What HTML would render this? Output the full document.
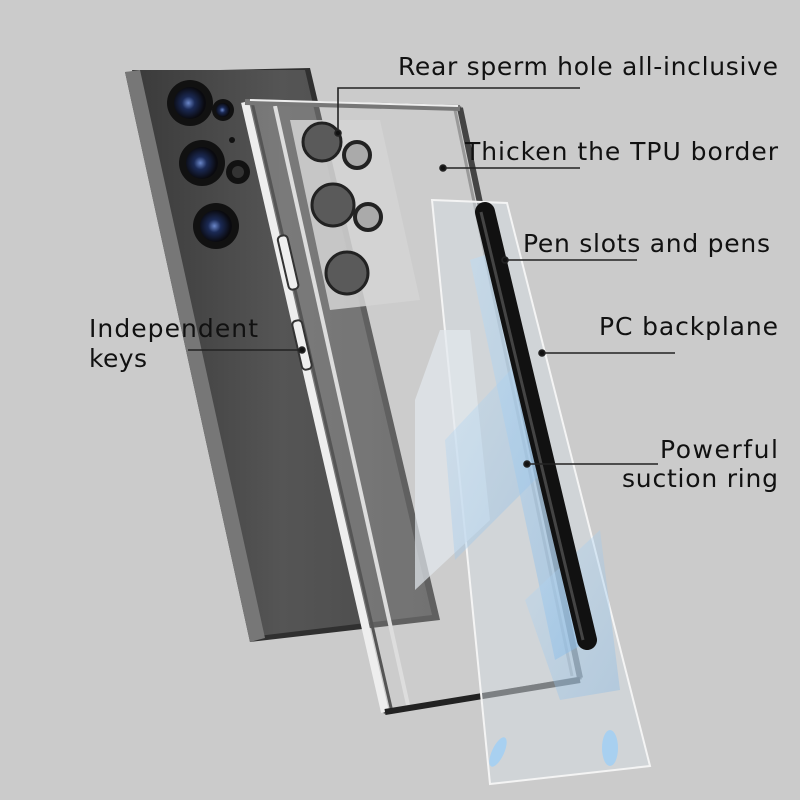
<!DOCTYPE html>
<html><head><style>
html,body{margin:0;padding:0;background:#cbcbcb;}
svg{display:block}
text{font-family:"DejaVu Sans","Liberation Sans",sans-serif;fill:#111;font-size:25px;}
</style></head><body>
<svg width="800" height="800" viewBox="0 0 800 800" xmlns="http://www.w3.org/2000/svg">
<defs>
<linearGradient id="ph" x1="0" y1="0" x2="1" y2="0">
<stop offset="0" stop-color="#3a3a3a"/><stop offset="0.5" stop-color="#555"/><stop offset="1" stop-color="#4a4a4a"/>
</linearGradient>
<radialGradient id="lens" cx="0.45" cy="0.5" r="0.5">
<stop offset="0" stop-color="#6a86c8"/><stop offset="0.4" stop-color="#1b2a55"/><stop offset="1" stop-color="#0a0a0f"/>
</radialGradient>
<linearGradient id="bl" x1="0" y1="0" x2="1" y2="1">
<stop offset="0" stop-color="#bcdcf5" stop-opacity="0.8"/><stop offset="1" stop-color="#7fb6e6" stop-opacity="0.8"/>
</linearGradient>
</defs>
<rect width="800" height="800" fill="#cbcbcb"/>
<!-- phone -->
<polygon points="125,72 310,68 440,620 250,642" fill="#303030"/>
<polygon points="132,70 305,70 432,615 258,636" fill="url(#ph)"/>
<polygon points="125,72 140,70 265,638 250,642" fill="#777"/>
<!-- lenses -->
<circle cx="190" cy="103" r="23" fill="#111"/><circle cx="190" cy="103" r="16" fill="url(#lens)"/>
<circle cx="223" cy="110" r="11" fill="#111"/><circle cx="223" cy="110" r="7" fill="url(#lens)"/>
<circle cx="202" cy="163" r="23" fill="#111"/><circle cx="202" cy="163" r="16" fill="url(#lens)"/>
<circle cx="238" cy="172" r="12" fill="#111"/><circle cx="238" cy="172" r="6" fill="#333"/>
<circle cx="216" cy="226" r="23" fill="#111"/><circle cx="216" cy="226" r="16" fill="url(#lens)"/>
<circle cx="232" cy="140" r="3" fill="#111"/>
<!-- frame -->
<polygon points="245,102 460,108 580,678 385,712" fill="#d0d0d0" fill-opacity="0.3" stroke="#555" stroke-width="3"/>
<path d="M245,102 L385,712" stroke="#eee" stroke-width="8"/>
<path d="M252,102 L392,712" stroke="#555" stroke-width="3"/>
<path d="M275,106 L408,705" stroke="#ddd" stroke-width="4"/>
<path d="M460,108 L580,678" stroke="#444" stroke-width="6"/>
<path d="M455,110 L572,676" stroke="#999" stroke-width="3"/>
<path d="M385,712 L580,680" stroke="#222" stroke-width="6"/>
<path d="M245,102 L460,108" stroke="#777" stroke-width="6"/>
<path d="M250,100 L458,106" stroke="#eee" stroke-width="2"/>
<!-- frame camera plate -->
<polygon points="290,120 380,120 420,300 330,310" fill="#d4d4d4" fill-opacity="0.85"/>
<circle cx="322" cy="142" r="19" fill="#5a5a5a" stroke="#222" stroke-width="3"/>
<circle cx="357" cy="155" r="13" fill="#aaa" stroke="#222" stroke-width="4"/>
<circle cx="333" cy="205" r="21" fill="#5a5a5a" stroke="#222" stroke-width="3"/>
<circle cx="368" cy="217" r="13" fill="#aaa" stroke="#222" stroke-width="4"/>
<circle cx="347" cy="273" r="21" fill="#5a5a5a" stroke="#222" stroke-width="3"/>
<!-- side keys -->
<rect x="283" y="235" width="10" height="55" rx="4" fill="#eee" stroke="#333" stroke-width="2" transform="rotate(-13 288 262)"/>
<rect x="297" y="320" width="10" height="50" rx="4" fill="#eee" stroke="#333" stroke-width="2" transform="rotate(-13 302 345)"/>
<!-- PC backplane -->
<polygon points="432,200 507,203 650,766 490,784" fill="#d6dde3" fill-opacity="0.5" stroke="#f4f4f4" stroke-width="2"/>
<polygon points="415,400 440,330 470,330 490,520 415,590" fill="#e2e8ee" fill-opacity="0.7"/>
<polygon points="445,440 520,360 545,470 455,560" fill="url(#bl)" opacity="0.45"/>
<polygon points="470,260 500,250 590,640 555,660" fill="url(#bl)" opacity="0.6"/>
<polygon points="525,600 600,530 620,690 560,700" fill="url(#bl)" opacity="0.45"/>
<ellipse cx="610" cy="748" rx="8" ry="18" fill="#a8d0f0"/>
<ellipse cx="498" cy="752" rx="6" ry="16" fill="#a8d0f0" transform="rotate(25 498 752)"/>
<!-- pen -->
<path d="M485,212 L587,640" stroke="#111" stroke-width="20" stroke-linecap="round"/>
<path d="M481,212 L583,640" stroke="#444" stroke-width="3"/>
<!-- callout lines -->
<g stroke="#222" stroke-width="1.6" fill="#111">
<path d="M338,133 V88 H580" fill="none"/><circle cx="338" cy="133" r="3"/>
<path d="M443,168 H580" fill="none"/><circle cx="443" cy="168" r="3"/>
<path d="M505,260 H637" fill="none"/><circle cx="505" cy="260" r="3"/>
<path d="M542,353 H675" fill="none"/><circle cx="542" cy="353" r="3"/>
<path d="M527,464 H658" fill="none"/><circle cx="527" cy="464" r="3"/>
<path d="M188,350 H302" fill="none"/><circle cx="302" cy="350" r="3"/>
</g>
<!-- labels -->
<text x="778" y="75" text-anchor="end" textLength="380">Rear sperm hole all-inclusive</text>
<text x="778" y="160" text-anchor="end" textLength="313">Thicken the TPU border</text>
<text x="770" y="252" text-anchor="end" textLength="247">Pen slots and pens</text>
<text x="778" y="335" text-anchor="end" textLength="179">PC backplane</text>
<text x="778" y="458" text-anchor="end" textLength="118">Powerful</text>
<text x="778" y="487" text-anchor="end" textLength="156">suction ring</text>
<text x="89" y="337" textLength="169">Independent</text>
<text x="89" y="367" textLength="58">keys</text>
</svg>
</body></html>
